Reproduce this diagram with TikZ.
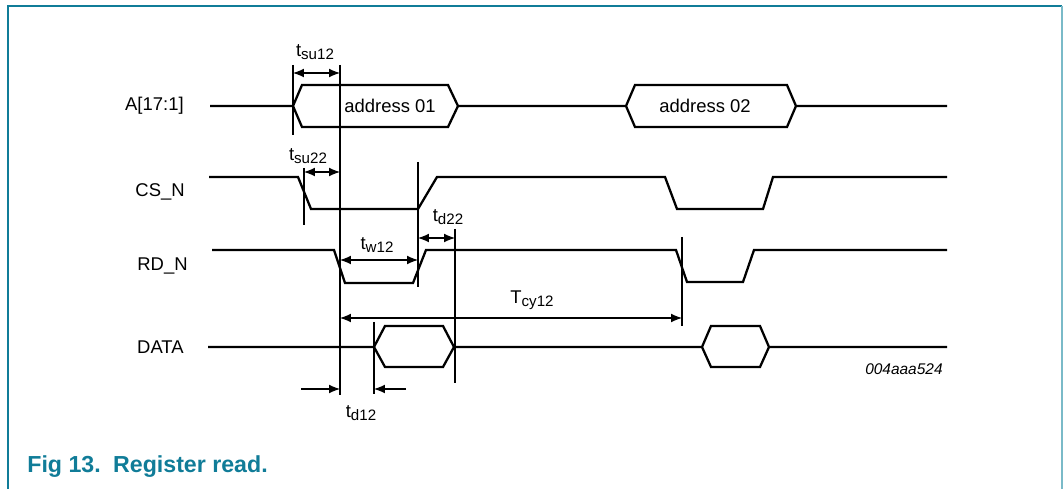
\documentclass[tikz,border=0pt]{standalone}
\usepackage{fontspec}
\setmainfont{Liberation Sans}
\usepackage{xcolor}
\usetikzlibrary{arrows.meta}

\definecolor{nxpteal}{RGB}{16,124,152}
\definecolor{nxplight}{RGB}{122,186,200}
\newcommand{\tlab}[2]{#1\raisebox{-0.3ex}{\fontsize{8.6}{10}\selectfont #2}}

\begin{document}
\begin{tikzpicture}[
    x=0.02cm, y=-0.02cm,
    sig/.style={line width=1.3pt, line join=miter},
    refline/.style={line width=0.6pt},
    dim/.style={line width=0.6pt, {Latex[length=6.2pt,width=5pt]}-{Latex[length=6.2pt,width=5pt]}},
    dimr/.style={line width=0.6pt, -{Latex[length=6.2pt,width=5pt]}},
    lbl/.style={inner sep=0pt, font=\fontsize{10.5}{12}\selectfont},
    signame/.style={lbl, anchor=east}
]
\useasboundingbox (0,0) rectangle (1063,489);

% frame
\draw[nxpteal, line width=1.2pt] (8,489) -- (8,6) -- (1062,6);
\draw[nxplight, line width=1.4pt] (1062,6) -- (1062,489);

% signal names
\node[signame] (lA) at (184,106) {A[17:1]};
\node[signame] (lCS) at (185,192) {CS\_N};
\node[signame] (lRD) at (188,266) {RD\_N};
\node[signame] (lDATA) at (184,347) {DATA};

% A[17:1]
\draw[sig] (210,106) -- (293,106) -- (302,85) -- (448,85) -- (458,106) -- (626,106)
  -- (635,85) -- (787,85) -- (796,106) -- (947,106);
\draw[sig] (293,106) -- (302,127) -- (448,127) -- (458,106);
\draw[sig] (626,106) -- (635,127) -- (787,127) -- (796,106);
\node[lbl] (ad1) at (390,106) {address 01};
\node[lbl] (ad2) at (705,106) {address 02};

% CS_N
\draw[sig] (209,177) -- (298,177) -- (311,209) -- (418,209) -- (437,177) -- (665,177)
  -- (677,209) -- (763,209) -- (773,177) -- (947,177);

% RD_N
\draw[sig] (212,250) -- (334,250) -- (345,283) -- (413,283) -- (426,250) -- (676,250)
  -- (687,282) -- (743,282) -- (754,250) -- (947,250);

% DATA
\draw[sig] (208,347) -- (374,347) -- (385,326) -- (443,326) -- (454,347) -- (702,347)
  -- (711,326) -- (760,326) -- (769,347) -- (947,347);
\draw[sig] (374,347) -- (385,367) -- (443,367) -- (454,347);
\draw[sig] (702,347) -- (711,367) -- (760,367) -- (769,347);
\node[lbl, anchor=east, font=\fontsize{8.8}{10}\selectfont\itshape] (code) at (943,369) {004aaa524};

% timing references
\coordinate (r1) at (293,73);
\coordinate (r2) at (340,73);
\coordinate (r3) at (304,172);
\coordinate (r4) at (418,238);
\coordinate (r5) at (455,238);
\coordinate (r6) at (682,318);
\coordinate (r7) at (374,389);

\draw[refline] (293,65) -- (293,135);
\draw[refline] (340,65) -- (340,395);
\draw[refline] (304,168) -- (304,225);
\draw[refline] (418,162) -- (418,287);
\draw[refline] (455,229) -- (455,383);
\draw[refline] (682,237) -- (682,326);
\draw[refline] (374,322) -- (374,394);

\draw[dim] (r1) -- (r2);
\draw[dim] (r3) -- (r3 -| r2);
\draw[dim] (r2 |- 0,260) -- (r4 |- 0,260);
\draw[dim] (r4) -- (r5);
\draw[dim] (r2 |- r6) -- (r6);
\draw[dimr] (301,389) -- (r2 |- r7);
\draw[dimr] (406,389) -- (r7);

\node[lbl] (tsu12) at (315,52) {\tlab{t}{su12}};
\node[lbl] (tsu22) at (308,156) {\tlab{t}{su22}};
\node[lbl] (tw12) at (377,245) {\tlab{t}{w12}};
\node[lbl] (td22) at (448,217) {\tlab{t}{d22}};
\node[lbl] (tcy12) at (532,300) {\tlab{T}{cy12}};
\node[lbl] (td12) at (361,413) {\tlab{t}{d12}};

% caption
\node[anchor=west, inner sep=0pt, text=nxpteal, font=\bfseries\fontsize{13.2}{15}\selectfont] (cap) at (27,467) {Fig 13.\hspace{7pt}Register read.};
\end{tikzpicture}
\end{document}
